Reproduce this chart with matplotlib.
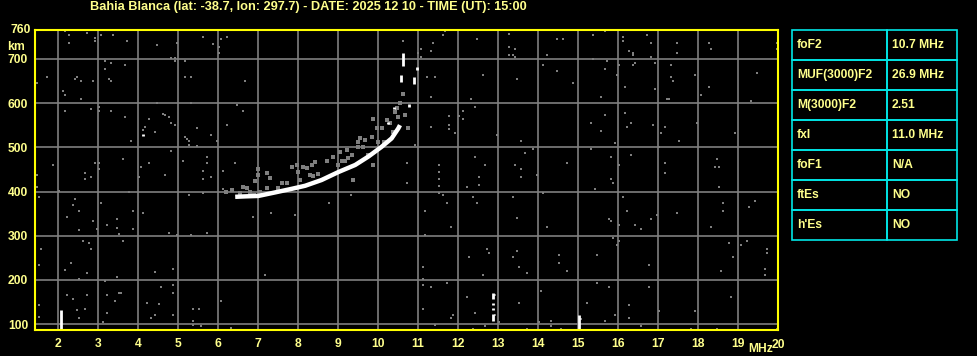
import matplotlib
matplotlib.use('Agg')
import matplotlib.pyplot as plt
from matplotlib.patches import Rectangle

title = 'Bahia Blanca (lat: -38.7, lon: 297.7) - DATE: 2025 12 10 - TIME (UT): 15:00'

# O trace (white ribbon)
trace_f = [6.43, 6.68, 7.01, 7.43, 7.84, 8.18, 8.59, 9.01, 9.43, 9.76, 10.09, 10.34, 10.51, 10.55]
trace_h = [388, 389, 390, 398, 406, 413, 426, 444, 460, 479, 501, 520, 543, 550]

# short white echoes (freq, low km, high km)
spike_f = [10.62, 10.57, 10.90, 10.97, 10.77, 2.07, 12.87, 12.87, 12.87, 12.87, 15.02, 4.12, 10.41, 10.26]
spike_lo = [684, 648, 644, 674, 592, 88, 158, 144, 133, 108, 88, 526, 586, 552]
spike_hi = [712, 663, 658, 682, 598, 132, 171, 148, 137, 124, 121, 530, 592, 558]

# grey echoes near the trace
echo_f = [7.01, 7.01, 7.22, 6.93, 6.72, 6.80, 7.05, 7.22, 7.51, 7.72, 7.84, 7.97, 8.13, 8.22,
          8.01, 8.43, 8.34, 8.30, 8.38, 8.72, 8.88, 9.01, 9.18, 9.26, 9.34, 9.22, 9.51, 9.55,
          9.68, 9.84, 9.97, 10.09, 10.22, 10.30, 10.43, 10.47, 10.51, 10.68, 10.76, 9.88, 9.51,
          9.88, 9.38, 10.38, 10.16, 10.01, 9.76, 9.05, 6.20, 6.35, 6.55, 6.62, 6.90, 7.30, 7.60,
          8.05, 8.50, 9.10, 9.62, 10.55, 10.62]
echo_h = [451, 437, 442, 424, 409, 398, 400, 407, 407, 419, 456, 459, 456, 453,
          445, 466, 459, 437, 434, 469, 479, 460, 468, 475, 483, 494, 513, 520,
          516, 524, 543, 543, 562, 554, 580, 588, 569, 573, 543, 564, 501,
          460, 426, 535, 513, 513, 483, 489, 400, 404, 396, 410, 393, 430, 420,
          426, 440, 470, 500, 600, 620]

# background noise
noise_f = [2.18, 2.27, 2.72, 2.93, 2.93, 3.07, 3.37, 2.27, 3.72, 4.47, 4.97, 5.62, 5.87, 6.07,
           6.02, 6.02, 4.82, 4.92, 4.92, 5.17, 3.17, 3.32, 3.67, 3.17, 1.72, 1.47, 2.47, 2.42,
           2.57, 2.87, 3.27, 3.32, 5.17, 5.32, 2.12, 2.17, 2.57, 4.47, 5.32, 2.17, 2.82, 3.02,
           3.02, 3.32, 3.67, 4.27, 4.62, 4.67, 4.77, 4.82, 4.92, 4.17, 4.12, 4.42, 5.47, 5.82,
           5.17, 5.22, 5.27, 5.27, 5.47, 5.97, 3.82, 4.82, 5.72, 5.72, 5.12, 1.87, 1.47, 2.67,
           2.67, 2.82, 2.92, 3.02, 3.02, 3.62, 4.07, 4.27, 4.02, 4.67, 5.62, 5.62, 5.82, 6.12,
           6.12, 1.47, 1.52, 2.02, 2.42, 2.37, 2.52, 2.22, 3.07, 3.77, 3.87, 4.12, 3.47, 2.87,
           3.22, 3.47, 2.52, 2.97, 3.52, 3.87, 4.77, 4.97, 5.32, 5.72, 5.27, 5.62, 1.57, 2.62,
           2.77, 2.82, 3.62, 1.52, 2.32, 2.17, 2.72, 3.47, 2.52, 3.17, 4.42, 4.87, 4.57, 4.87,
           4.87, 2.22, 2.37, 2.72, 3.22, 3.42, 3.52, 3.57, 4.22, 4.52, 1.52, 2.47, 2.67, 3.22,
           2.52, 1.52, 3.12, 4.32, 4.42, 4.87, 5.37, 5.52, 5.37, 5.37, 5.57, 6.07,
           6.22, 6.67, 6.47, 6.62, 6.22, 6.42, 10.62, 7.17, 7.92, 7.32, 6.87, 8.77, 9.32, 10.72,
           10.72, 10.92, 11.67, 11.62, 11.37, 11.32, 11.07, 10.99, 11.07, 12.47, 13.27, 13.27,
           13.42, 13.27, 13.37, 13.42, 14.47, 14.62, 14.22, 15.37, 15.37, 11.22, 11.42, 11.32,
           12.62, 13.47, 14.12, 14.47, 14.87, 12.32, 15.57, 15.67, 11.77, 11.77, 11.77, 12.02,
           12.12, 12.12, 11.92, 12.42, 11.32, 12.97, 13.57, 13.87, 13.67, 15.32, 15.57, 15.67,
           15.32, 14.72, 12.42, 12.67, 12.52, 12.52, 12.22, 13.42, 13.57, 13.57, 13.97, 11.52,
           11.52, 11.52, 11.52, 11.52, 14.12, 15.42, 12.37, 12.47, 11.72, 11.62, 13.37, 11.17,
           13.47, 11.82, 14.22, 11.17, 12.72, 12.77, 12.27, 13.47, 13.37, 14.52, 14.52, 15.47,
           11.12, 13.52, 13.72, 14.72, 12.62, 11.12, 11.72, 11.12, 11.32, 15.47, 14.07, 12.22,
           13.52, 15.22, 11.12, 11.87, 11.82, 12.42, 11.42, 12.37, 12.67, 13.02, 13.72, 14.02,
           14.32, 14.32, 14.57, 15.67, 12.92, 12.92, 15.07,
           15.67, 16.12, 16.12, 16.72, 16.82, 16.27, 16.37, 16.37, 16.82, 17.47, 17.47, 18.27,
           18.32, 19.97, 19.97, 15.72, 15.67, 16.02, 16.42, 16.37, 16.92, 17.32, 15.97, 17.32,
           17.37, 17.92, 16.17, 16.92, 18.27, 18.07, 19.47, 15.57, 17.22, 17.27, 19.32, 15.67,
           16.17, 16.32, 16.22, 16.87, 17.17, 17.07, 17.97, 18.92, 15.57, 15.92, 17.52, 17.02,
           15.82, 16.32, 16.02, 17.17, 17.17, 18.47, 18.42, 18.52, 18.52, 15.82, 15.87, 16.12,
           16.22, 15.77, 15.82, 16.02, 16.42, 16.57, 16.82, 16.97, 17.47, 18.32, 18.62, 18.62,
           19.27, 19.42, 15.87, 16.02, 15.97, 18.77, 18.87, 19.07, 19.22, 19.72, 19.72, 18.57,
           19.67, 19.67, 16.77, 15.77, 16.77, 16.27, 18.82, 15.92, 15.67, 16.27, 17.02, 17.92,
           16.57, 17.82, 18.47, 19.97, 6.32]
noise_h = [762, 753, 758, 748, 740, 753, 753, 735, 740, 731, 735, 749, 733, 744,
           726, 713, 701, 701, 695, 695, 695, 690, 686, 677, 659, 645, 659, 654,
           650, 650, 654, 650, 659, 659, 627, 618, 609, 600, 600, 582, 586, 591,
           582, 582, 568, 564, 575, 573, 568, 555, 550, 546, 539, 534, 543, 528,
           523, 519, 514, 505, 503, 514, 514, 492, 478, 465, 469, 460, 437, 442,
           428, 433, 465, 465, 451, 474, 456, 465, 433, 437, 447, 428, 433, 447,
           406, 410, 388, 401, 383, 370, 356, 343, 374, 399, 356, 352, 338, 334,
           325, 317, 313, 316, 304, 316, 307, 302, 302, 307, 392, 397, 271, 289,
           284, 271, 289, 234, 239, 223, 216, 207, 203, 198, 219, 225, 185, 189,
           171, 167, 158, 167, 167, 153, 171, 171, 149, 146, 144, 133, 135, 126,
           113, 117, 104, 115, 122, 122, 135, 135, 108, 99, 95, 153,
           749, 650, 595, 582, 550, 465, 740, 212, 347, 352, 343, 374, 392, 465,
           419, 505, 762, 753, 735, 717, 723, 713, 704, 744, 755, 726,
           722, 708, 708, 704, 744, 744, 708, 753, 699, 659, 659, 613,
           663, 654, 686, 672, 645, 609, 613, 677, 571, 541, 550, 571,
           582, 564, 532, 591, 546, 528, 514, 496, 487, 555, 537, 573,
           496, 465, 478, 460, 433, 415, 410, 460, 451, 433, 437, 460,
           444, 428, 412, 396, 397, 406, 388, 374, 374, 392, 388, 356,
           340, 320, 320, 302, 271, 262, 253, 266, 253, 257, 239, 257,
           230, 230, 216, 221, 212, 203, 194, 189, 185, 194, 176, 162,
           149, 149, 135, 122, 113, 126, 99, 90, 95, 104, 90, 104,
           108, 95, 90, 108, 165, 120, 112,
           762, 749, 740, 753, 735, 717, 713, 708, 704, 735, 713, 735,
           722, 735, 722, 695, 677, 686, 690, 686, 690, 686, 663, 659,
           650, 663, 636, 632, 636, 618, 668, 613, 609, 609, 604, 573,
           577, 555, 546, 550, 546, 532, 555, 532, 537, 510, 514, 501,
           478, 483, 460, 465, 442, 474, 456, 456, 410, 428, 419, 388,
           356, 338, 334, 325, 325, 316, 338, 347, 351, 320, 374, 356,
           365, 379, 296, 289, 279, 284, 253, 279, 289, 271, 262, 221,
           225, 212, 234, 185, 185, 144, 162, 122, 108, 113, 131, 131,
           95, 90, 90, 90, 91]

x_ticks = list(range(2, 20))
y_ticks = [100, 200, 300, 400, 500, 600, 700]

table_rows = [('foF2', '10.7 MHz'), ('MUF(3000)F2', '26.9 MHz'), ('M(3000)F2', '2.51'),
              ('fxI', '11.0 MHz'), ('foF1', 'N/A'), ('ftEs', 'NO'), ("h'Es", 'NO')]

plt.rcParams['font.family'] = ['Liberation Sans', 'DejaVu Sans']
plt.rcParams['font.weight'] = 'bold'
yel = '#ffff00'
txt = '#ffff8c'
grey = '#7f7f7f'
fs = 8.7

W, H = 978, 356
fig = plt.figure(figsize=(W / 100, H / 100), dpi=100, facecolor='black')
ax = fig.add_axes([35 / W, 26 / H, 743 / W, 300 / H], facecolor='black')
ax.set_xlim(1.425, 20)
ax.set_ylim(87, 765)

ax.set_xticks(x_ticks)
ax.set_xticklabels([str(t) for t in x_ticks])
ax.set_yticks(y_ticks)
ax.tick_params(axis='x', length=0, colors=txt, labelsize=fs, pad=6)
ax.tick_params(axis='y', length=0, colors=txt, labelsize=fs, pad=5)
for lab in ax.get_xticklabels() + ax.get_yticklabels():
    lab.set_fontweight('bold')
ax.grid(True, color=grey, lw=1.2)
ax.set_axisbelow(True)
for s in ax.spines.values():
    s.set_color(yel)
    s.set_linewidth(1.5)

ax.plot(noise_f, noise_h, 's', color=grey, ms=1.6, mew=0)
ax.plot(echo_f, echo_h, 's', color=grey, ms=3.0, mew=0)
ax.plot(trace_f, trace_h, '-', color='white', lw=3.2, solid_capstyle='butt')
ax.vlines(spike_f, spike_lo, spike_hi, color='white', lw=2)

ax.text(-0.006, 1.0, '760', transform=ax.transAxes, ha='right', va='center',
        color=txt, fontsize=fs, fontweight='bold')
ax.text(-0.013, 0.945, 'km', transform=ax.transAxes, ha='right', va='center',
        color=txt, fontsize=fs, fontweight='bold')
ax.text(1.0, -0.05, '20', transform=ax.transAxes, ha='center', va='center',
        color=txt, fontsize=fs, fontweight='bold')
ax.text((748 - 35) / 743, -0.064, 'MHz', transform=ax.transAxes, ha='left', va='center',
        color=txt, fontsize=fs, fontweight='bold')

fig.text(90 / W, 1 - 7 / H, title, ha='left', va='center', color=txt,
         fontsize=9.2, fontweight='bold')

# parameter table
cyan = '#00e6e6'
x0, x1, x2 = 792, 887, 957
top, rh = 30, 30
for i, (k, v) in enumerate(table_rows):
    y = top + i * rh
    for xa, xb in [(x0, x1), (x1, x2)]:
        fig.add_artist(Rectangle((xa / W, 1 - (y + rh) / H), (xb - xa) / W, rh / H,
                                 transform=fig.transFigure, fill=False,
                                 edgecolor=cyan, lw=1.2))
    fig.text((x0 + 5) / W, 1 - (y + rh / 2) / H, k, ha='left', va='center',
             color=txt, fontsize=fs, fontweight='bold')
    fig.text((x1 + 5) / W, 1 - (y + rh / 2) / H, v, ha='left', va='center',
             color=txt, fontsize=fs, fontweight='bold')

fig.savefig('out.png', dpi=100, facecolor='black')
